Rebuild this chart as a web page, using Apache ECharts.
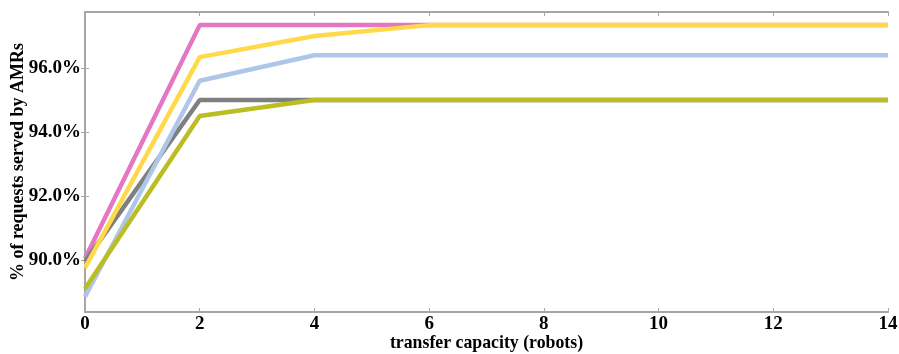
<!DOCTYPE html>
<html><head><meta charset="utf-8">
<script src="https://cdn.jsdelivr.net/npm/echarts@6/dist/echarts.min.js"></script>
<style>html,body{margin:0;padding:0;background:#fff}#c{width:899px;height:354px}</style>
</head><body><div id="c"></div>
<script>
const capacity = [0, 2, 4, 6, 8, 10, 12, 14];
const pinkVals   = [90.05, 97.34, 97.34, 97.34, 97.34, 97.34, 97.34, 97.34];
const grayVals   = [89.95, 95.0, 95.0, 95.0, 95.0, 95.0, 95.0, 95.0];
const blueVals   = [88.85, 95.6, 96.4, 96.4, 96.4, 96.4, 96.4, 96.4];
const oliveVals  = [89.1, 94.5, 95.0, 95.0, 95.0, 95.0, 95.0, 95.0];
const yellowVals = [89.75, 96.34, 97.0, 97.34, 97.34, 97.34, 97.34, 97.34];
const yTicks = [90, 92, 94, 96];
const xTicks = [0, 2, 4, 6, 8, 10, 12, 14];

const font = 'Liberation Serif';
const axisCol = '#a6a6a6';
function pairs(v){ return capacity.map((x,i)=>[x, v[i]]); }
function ser(name, vals, color){
  return {name, type:'line', data:pairs(vals), symbol:'none', lineStyle:{color, width:4.5}, itemStyle:{color}};
}
const chart = echarts.init(document.getElementById('c'));
chart.setOption({
  animation:false,
  grid:{left:85, right:11, top:12, bottom:42, containLabel:false, outerBoundsMode:'none'},
  xAxis:[{
    type:'value', min:0, max:14, interval:2, position:'bottom',
    name:'transfer capacity (robots)', nameLocation:'middle', nameGap:22, nameMoveOverlap:false,
    nameTextStyle:{fontFamily:font, fontWeight:'bold', fontSize:17.8, color:'#000'},
    axisLine:{show:true, lineStyle:{color:axisCol, width:2}},
    axisTick:{show:true, inside:true, length:4, lineStyle:{color:axisCol}},
    axisLabel:{fontFamily:font, fontWeight:'bold', fontSize:19, color:'#000', margin:3},
    splitLine:{show:false}
  },{
    type:'value', min:0, max:14, interval:2, position:'top',
    axisLine:{show:true, lineStyle:{color:axisCol, width:2}},
    axisTick:{show:true, inside:true, length:4, lineStyle:{color:axisCol}},
    axisLabel:{show:false}, splitLine:{show:false}
  }],
  yAxis:[{
    type:'value', min:88.375, max:97.75, position:'left',
    name:'% of requests served by AMRs', nameLocation:'middle', nameGap:58, nameMoveOverlap:false,
    nameTextStyle:{fontFamily:font, fontWeight:'bold', fontSize:18, color:'#000'},
    axisLine:{show:true, lineStyle:{color:axisCol, width:2}},
    axisTick:{show:true, inside:true, length:4, lineStyle:{color:axisCol}, customValues:yTicks},
    axisLabel:{fontFamily:font, fontWeight:'bold', fontSize:19, color:'#000', margin:4,
      customValues:yTicks, formatter:v=>v.toFixed(1)+'%'},
    splitLine:{show:false}
  },{
    type:'value', min:88.375, max:97.75, position:'right',
    axisLine:{show:true, lineStyle:{color:axisCol, width:2}},
    axisTick:{show:true, inside:true, length:4, lineStyle:{color:axisCol}, customValues:yTicks},
    axisLabel:{show:false}, splitLine:{show:false}
  }],
  series:[
    ser('pink', pinkVals, '#e377c2'),
    ser('gray', grayVals, '#7f7f7f'),
    ser('blue', blueVals, '#aec7e8'),
    ser('olive', oliveVals, '#bcbd22'),
    ser('yellow', yellowVals, '#ffd94a')
  ]
});
</script></body></html>
